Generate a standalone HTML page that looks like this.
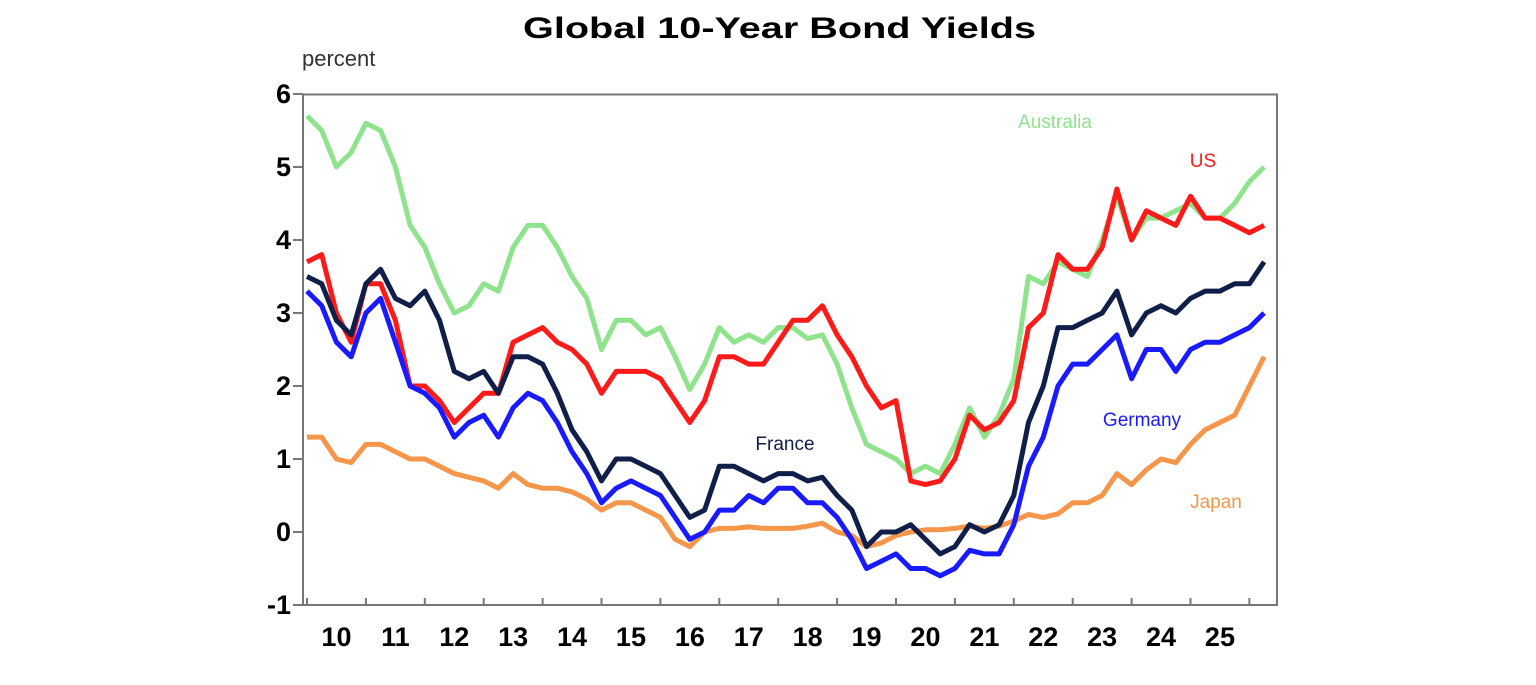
<!DOCTYPE html>
<html><head><meta charset="utf-8"><style>
body{margin:0;background:#fff;width:1536px;height:680px;overflow:hidden;font-family:"Liberation Sans",Arial,sans-serif}
</style></head><body>
<svg id="c" width="1536" height="680">
<text x="523" y="38" textLength="513" lengthAdjust="spacingAndGlyphs" font-size="30" font-weight="bold" fill="#000">Global 10-Year Bond Yields</text>
<text x="302" y="66" font-size="22" fill="#333">percent</text>
<g id="plot"></g>
</svg>
<script>
const yTicks=[6,5,4,3,2,1,0,-1];
const yearLabels=["10","11","12","13","14","15","16","17","18","19","20","21","22","23","24","25"];
const startYear=2010, step=0.25;
const australia=[5.7,5.5,5.0,5.2,5.6,5.5,5.0,4.2,3.9,3.4,3.0,3.1,3.4,3.3,3.9,4.2,4.2,3.9,3.5,3.2,2.5,2.9,2.9,2.7,2.8,2.4,1.95,2.3,2.8,2.6,2.7,2.6,2.8,2.8,2.65,2.7,2.3,1.7,1.2,1.1,1.0,0.8,0.9,0.8,1.2,1.7,1.3,1.6,2.1,3.5,3.4,3.7,3.6,3.5,4.0,4.6,4.0,4.3,4.3,4.4,4.5,4.3,4.3,4.5,4.8,5.0];
const us=[3.7,3.8,3.0,2.6,3.4,3.4,2.9,2.0,2.0,1.8,1.5,1.7,1.9,1.9,2.6,2.7,2.8,2.6,2.5,2.3,1.9,2.2,2.2,2.2,2.1,1.8,1.5,1.8,2.4,2.4,2.3,2.3,2.6,2.9,2.9,3.1,2.7,2.4,2.0,1.7,1.8,0.7,0.65,0.7,1.0,1.6,1.4,1.5,1.8,2.8,3.0,3.8,3.6,3.6,3.9,4.7,4.0,4.4,4.3,4.2,4.6,4.3,4.3,4.2,4.1,4.2];
const germany=[3.3,3.1,2.6,2.4,3.0,3.2,2.6,2.0,1.9,1.7,1.3,1.5,1.6,1.3,1.7,1.9,1.8,1.5,1.1,0.8,0.4,0.6,0.7,0.6,0.5,0.2,-0.1,0.0,0.3,0.3,0.5,0.4,0.6,0.6,0.4,0.4,0.2,-0.1,-0.5,-0.4,-0.3,-0.5,-0.5,-0.6,-0.5,-0.25,-0.3,-0.3,0.1,0.9,1.3,2.0,2.3,2.3,2.5,2.7,2.1,2.5,2.5,2.2,2.5,2.6,2.6,2.7,2.8,3.0];
const france=[3.5,3.4,2.9,2.7,3.4,3.6,3.2,3.1,3.3,2.9,2.2,2.1,2.2,1.9,2.4,2.4,2.3,1.9,1.4,1.1,0.7,1.0,1.0,0.9,0.8,0.5,0.2,0.3,0.9,0.9,0.8,0.7,0.8,0.8,0.7,0.75,0.5,0.3,-0.2,0.0,0.0,0.1,-0.1,-0.3,-0.2,0.1,0.0,0.1,0.5,1.5,2.0,2.8,2.8,2.9,3.0,3.3,2.7,3.0,3.1,3.0,3.2,3.3,3.3,3.4,3.4,3.7];
const japan=[1.3,1.3,1.0,0.95,1.2,1.2,1.1,1.0,1.0,0.9,0.8,0.75,0.7,0.6,0.8,0.65,0.6,0.6,0.55,0.45,0.3,0.4,0.4,0.3,0.2,-0.1,-0.2,0.0,0.05,0.05,0.07,0.05,0.05,0.05,0.08,0.12,0.0,-0.05,-0.2,-0.15,-0.05,0.0,0.03,0.03,0.05,0.08,0.05,0.08,0.15,0.24,0.2,0.25,0.4,0.4,0.5,0.8,0.65,0.85,1.0,0.95,1.2,1.4,1.5,1.6,2.0,2.4];

const L=303,R=1277,T=94.5,B=605;
const xs=t=>307+(t-2010)*58.9;
const ys=v=>532-v*73;
const NS="http://www.w3.org/2000/svg";
const g=document.getElementById('plot');
function mk(tag,attrs){const e=document.createElementNS(NS,tag);for(const k in attrs)e.setAttribute(k,attrs[k]);g.appendChild(e);return e;}

const frame=mk('rect',{x:L,y:T,width:R-L,height:B-T,fill:'none',stroke:'#777','stroke-width':2});



yTicks.forEach(v=>{
  const tk=mk('line',{x1:L-10,x2:L,y1:ys(v),y2:ys(v),stroke:'#777','stroke-width':2});
  
  
  const t=mk('text',{x:L-12,y:ys(v)+9,'text-anchor':'end','font-size':27,'font-weight':'bold',fill:'#000'});
  t.textContent=v;
  
  
});
for(let i=0;i<=yearLabels.length;i++){
  const x=xs(2010+i);
  const tk=mk('line',{x1:x,x2:x,y1:B-7,y2:B,stroke:'#777','stroke-width':2});
  
  
}
yearLabels.forEach((lab,i)=>{
  const t=mk('text',{x:xs(2010.5+i),y:646,'text-anchor':'middle','font-size':27,'font-weight':'bold',fill:'#000'});
  t.textContent=lab;
  
  
});

const series=[
 {d:japan,c:'#f5964a',n:'japan'},
 {d:australia,c:'#8fe38c',n:'australia'},
 {d:us,c:'#ff1a1a',n:'us'},
 {d:germany,c:'#1a1aff',n:'germany'},
 {d:france,c:'#0f1f4a',n:'france'}
];
series.forEach(s=>{
  const pts=s.d.map((v,i)=>xs(startYear+i*step).toFixed(1)+','+ys(v).toFixed(1)).join(' ');
  const p=mk('polyline',{points:pts,fill:'none',stroke:s.c,'stroke-width':5,'stroke-linejoin':'round'});
  
  
});

const labels=[
 ['Australia',1055,128,'#8fe38c'],['US',1203,167,'#ff1a1a'],['France',785,450,'#0f1f4a'],
 ['Germany',1142,426,'#1a1aff'],['Japan',1216,508,'#f5964a']
];
labels.forEach(l=>{
  const t=mk('text',{x:l[1],y:l[2],'text-anchor':'middle','font-size':19,fill:l[3]});
  t.textContent=l[0];
  
  
});
</script>
</body></html>
